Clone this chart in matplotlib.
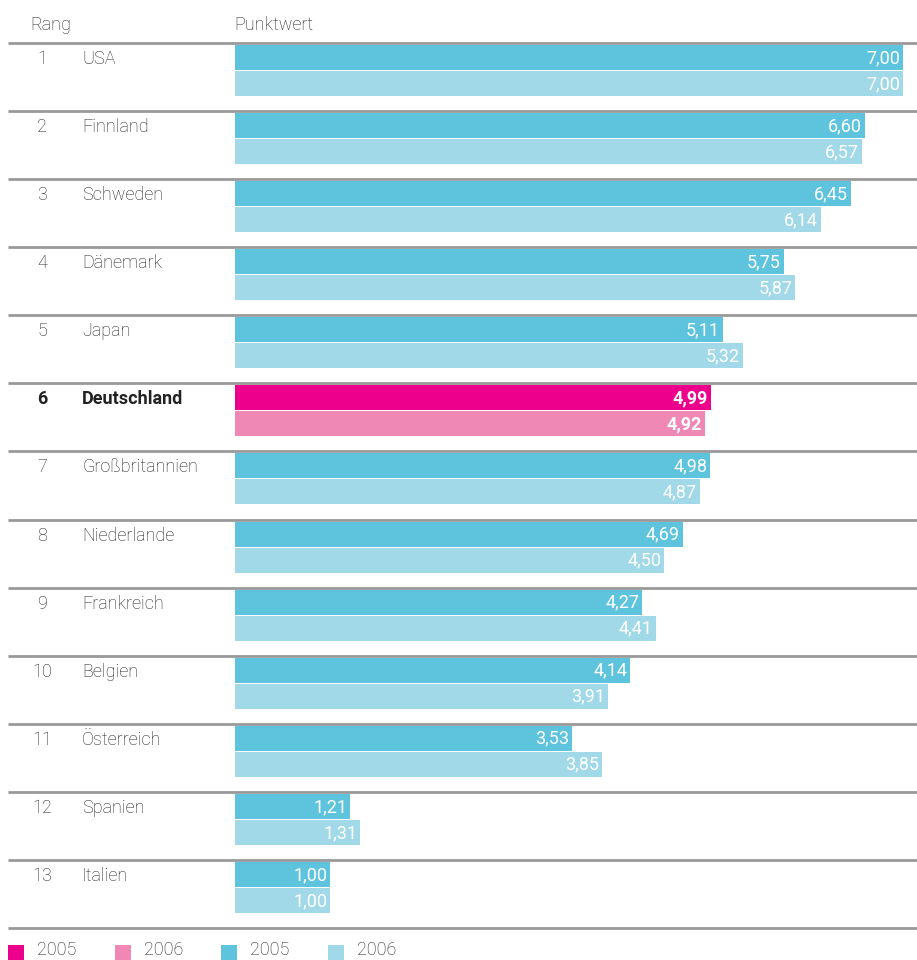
import numpy as np
import matplotlib
matplotlib.use("Agg")
from matplotlib import pyplot as plt

# data
ranks = list(range(1, 14))
countries = ["USA", "Finnland", "Schweden", "Dänemark", "Japan", "Deutschland",
             "Großbritannien", "Niederlande", "Frankreich", "Belgien",
             "Österreich", "Spanien", "Italien"]
v2005 = [7.00, 6.60, 6.45, 5.75, 5.11, 4.99, 4.98, 4.69, 4.27, 4.14, 3.53, 1.21, 1.00]
v2006 = [7.00, 6.57, 6.14, 5.87, 5.32, 4.92, 4.87, 4.50, 4.41, 3.91, 3.85, 1.31, 1.00]
highlight = "Deutschland"
legend_labels = ["2005", "2006", "2005", "2006"]

plt.rcParams['font.family'] = ['Roboto', 'DejaVu Sans']
TXT = "#222222"
C05, C06 = "#5ec4de", "#a2d9e8"
M05, M06 = "#ec008c", "#f088b6"
FS = 13

W, H = 917, 960
fig = plt.figure(figsize=(W / 100, H / 100), dpi=100)
ax = fig.add_axes([0, 0, 1, 1])
# x in values (0 at px 235, 7.0 at px 903), y in pixels
ppu = (903 - 235) / 7.0
ax.set_xlim(-235 / ppu, (W - 235) / ppu)
ax.set_ylim(H, 0)
ax.axis("off")

x_left = -235 / ppu
def px(p):
    return x_left + p / ppu

top0, step = 43, 68.08
for i, (r, c, a, b) in enumerate(zip(ranks, countries, v2005, v2006)):
    top = top0 + i * step
    ax.plot([px(8), px(917)], [top, top], color="#999999", lw=2, solid_capstyle="butt")
    hl = c == highlight
    ca, cb = (M05, M06) if hl else (C05, C06)
    ax.barh(top + 14.5, a, height=25, left=0, color=ca, linewidth=0)
    ax.barh(top + 40.5, b, height=25, left=0, color=cb, linewidth=0)
    fw = "bold" if hl else "light"
    ax.text(px(42), top + 16, str(r), ha="center", va="center", fontsize=FS,
            color=TXT, fontweight=fw)
    ax.text(px(82), top + 16, c, ha="left", va="center", fontsize=FS,
            color=TXT, fontweight=fw)
    for v, yy in ((a, top + 15), (b, top + 41)):
        ax.text(v - 3 / ppu, yy, f"{v:.2f}".replace(".", ","), ha="right",
                va="center", fontsize=FS, color="white",
                fontweight="bold" if hl else "normal")

bottom = top0 + 13 * step
ax.plot([px(8), px(917)], [bottom, bottom], color="#999999", lw=2, solid_capstyle="butt")

ax.text(px(30), 25, "Rang", ha="left", va="center", fontsize=FS, color=TXT, fontweight="light")
ax.text(px(234), 25, "Punktwert", ha="left", va="center", fontsize=FS, color=TXT, fontweight="light")

# legend
for lx, col, lab in zip([8, 115, 221, 328], [M05, M06, C05, C06], legend_labels):
    ax.add_patch(plt.Rectangle((px(lx), 945), 16 / ppu, 16, color=col, lw=0))
    ax.text(px(lx + 29), 950, lab, ha="left", va="center", fontsize=FS,
            color=TXT, fontweight="light")

fig.savefig("out.png", dpi=100)
